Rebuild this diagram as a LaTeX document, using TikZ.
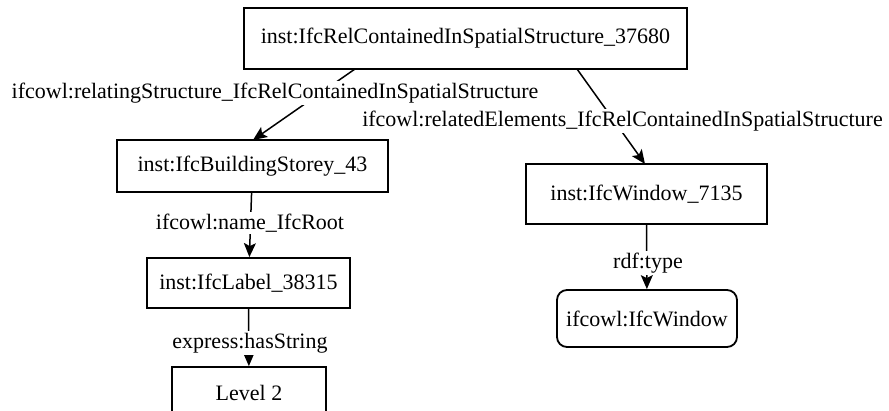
\documentclass[tikz,border=0pt]{standalone}
\usepackage{fontspec}
\setmainfont{Liberation Serif}
\usetikzlibrary{arrows.meta}
\begin{document}
\begin{tikzpicture}[x=1pt,y=-1pt,
  every node/.style={font=\fontsize{22}{26}\selectfont, inner sep=0pt},
  res/.style={draw, line width=1.8pt, minimum width=#1},
  cls/.style={draw, line width=1.8pt, rounded corners=10pt, minimum width=#1},
  lbl/.style={fill=white, inner xsep=1pt, inner ysep=2pt},
  link/.style={line width=1.5pt, -{Stealth[length=14pt,width=12pt,inset=3pt]}}
]
\clip (0,0) rectangle (889,410);
\useasboundingbox (0,0) rectangle (889,410);

% resources
\node[res=443pt, minimum height=61pt] (rel) at (465.5,38.5) {inst:IfcRelContainedInSpatialStructure\_37680};
\node[res=271pt, minimum height=52pt] (storey) at (252.5,166) {inst:IfcBuildingStorey\_43};
\node[res=203pt, minimum height=50pt] (label) at (248.5,283) {inst:IfcLabel\_38315};
\node[res=154pt, minimum height=52pt] (level) at (249,393) {Level 2};
\node[res=241pt, minimum height=60pt] (win) at (646.5,194) {inst:IfcWindow\_7135};
\node[cls=180pt, minimum height=57pt] (wincls) at (647,318.5) {ifcowl:IfcWindow};

% edges (labels sit on top of them with a white ground)
\coordinate (relL) at (355,69);
\coordinate (relR) at (577,69);
\coordinate (storeyT) at (253,140);
\coordinate (winT) at (645,164);
\draw[link] (relL) -- (storeyT);
\draw[link] (relR) -- (winT);
\draw[link] (storey) -- (label);
\draw[link] (label) -- (level);
\draw[link] (win) -- (wincls);

% predicate labels
\node[lbl] (p1) at (275,93) {ifcowl:relatingStructure\_IfcRelContainedInSpatialStructure};
\node[lbl] (p2) at (622.5,121) {ifcowl:relatedElements\_IfcRelContainedInSpatialStructure};
\node[lbl] (p3) at (250,223) {ifcowl:name\_IfcRoot};
\node[lbl] (p4) at (250,343) {express:hasString};
\node[lbl] (p5) at (648,263) {rdf:type};
\end{tikzpicture}
\end{document}
